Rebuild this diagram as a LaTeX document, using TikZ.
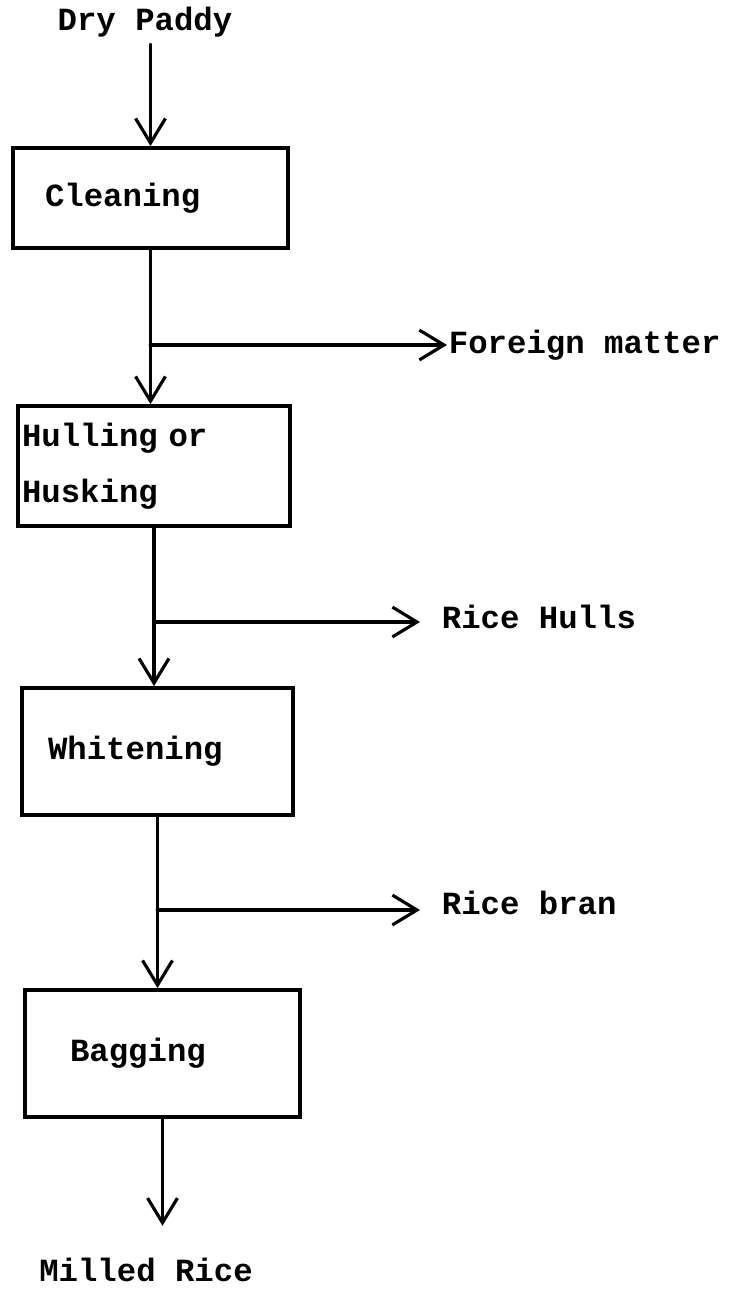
\documentclass[tikz,border=0pt]{standalone}
\usepackage{fontspec}
\setmonofont{Liberation Mono}
\usetikzlibrary{arrows.meta}

\begin{document}
\begin{tikzpicture}[x=0.02cm,y=-0.02cm,line width=2.2pt,line cap=round,
  >={Straight Barb[length=14pt,width=17pt,line width=1.8pt]},
  font=\ttfamily\bfseries\fontsize{18.4}{32}\selectfont,
  stepbox/.style={draw,align=left,inner ysep=0pt}]
	\useasboundingbox (0,0) rectangle (731,1297);

	\node (paddy) at (145,22) {Dry Paddy};
	\node (cleaning) [stepbox,inner xsep=0.64cm,text width=4.22cm,minimum height=2cm] at (150.5,198) {Cleaning};
	\node (hulling) [stepbox,inner xsep=0.08cm,text width=5.28cm,minimum height=2.4cm] at (154,466) {Hulling or\\Husking};
	\node (whitening) [stepbox,inner xsep=0.52cm,text width=4.38cm,minimum height=2.54cm] at (157.5,751.5) {Whitening\\[0.3cm]};
	\node (bagging) [stepbox,inner xsep=0.9cm,text width=3.7cm,minimum height=2.54cm] at (162.5,1053.5) {Bagging};
	\node (milled) at (146,1270) {Milled Rice};

	\node (foreign) [anchor=west,inner sep=0pt] at (447,345) {Foreign matter};
	\node (hulls) [anchor=west,inner xsep=0.4cm] at (420,617) {Rice Hulls};
	\node (bran) [anchor=west,inner xsep=0.4cm] at (420,903) {Rice bran};

	% branch points
	\coordinate (hullsend) at (420,622);
	\coordinate (branend) at (420,910);

	% main line
	\draw[->] (paddy.south -| cleaning.north) -- (cleaning.north);
	\draw[->] (cleaning.south) -- (cleaning.south |- hulling.north);
	\draw[->] (hulling.south) -- (hulling.south |- whitening.north);
	\draw[->] (whitening.south) -- (whitening.south |- bagging.north);
	\draw[->,shorten >=14pt] (bagging.south) -- (bagging.south |- milled.north);

	% by-products
	\draw[->] (cleaning.south |- foreign.west) -- (foreign.west);
	\draw[->] (hulling.south |- hullsend) -- (hullsend);
	\draw[->] (whitening.south |- branend) -- (branend);
\end{tikzpicture}
\end{document}
